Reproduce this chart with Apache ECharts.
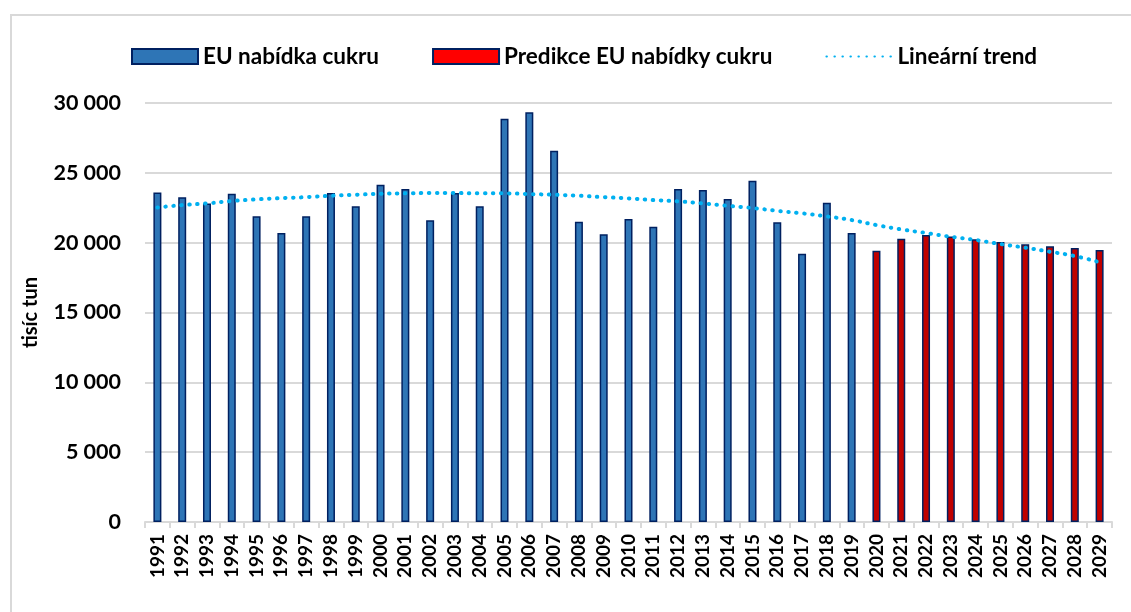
<!DOCTYPE html>
<html>
<head>
<meta charset="utf-8">
<script src="https://cdn.jsdelivr.net/npm/echarts@6/dist/echarts.min.js"></script>
<style>
  html, body { margin: 0; padding: 0; background: #fff; }
  #chart { width: 1131px; height: 612px; }
</style>
</head>
<body>
<div id="chart"></div>
<script>
// Years on the category axis
const years = [
  '1991','1992','1993','1994','1995','1996','1997','1998','1999','2000',
  '2001','2002','2003','2004','2005','2006','2007','2008','2009','2010',
  '2011','2012','2013','2014','2015','2016','2017','2018','2019','2020',
  '2021','2022','2023','2024','2025','2026','2027','2028','2029'
];

// EU sugar supply, thousand tonnes, 1991–2019
const supplyHistory = [
  23600, 23250, 22800, 23500, 21900, 20700, 21900, 23550, 22600, 24150,
  23850, 21600, 23550, 22600, 28870, 29330, 26580, 21500, 20600, 21700,
  21140, 23840, 23770, 23120, 24430, 21470, 19200, 22860, 20700
];

// Forecast of EU sugar supply, 2020–2029
const supplyForecast = [
  19420, 20280, 20540, 20450, 20240, 20040, 19880, 19740, 19610, 19470
];

// Trend line values for every year
const trendValues = [
  22520, 22690, 22810, 22980, 23100, 23190, 23260, 23360, 23430, 23500,
  23530, 23550, 23550, 23530, 23530, 23480, 23430, 23360, 23260, 23170,
  23050, 22960, 22810, 22640, 22480, 22280, 22100, 21880, 21620, 21260,
  20950, 20690, 20420, 20190, 19900, 19640, 19350, 19040, 18600
];

// Y axis ticks
const yTicks = [0, 5000, 10000, 15000, 20000, 25000, 30000];

const seriesNames = ['EU nabídka cukru', 'Predikce EU nabídky cukru', 'Lineární trend'];

const blueData = years.map((y, i) => i < supplyHistory.length ? supplyHistory[i] : '-');
const redData = years.map((y, i) => i >= supplyHistory.length ? supplyForecast[i - supplyHistory.length] : '-');

const FONT = 'Lato, "Open Sans", sans-serif';
const WEIGHT = 'bold';
const fmt = v => String(v).replace(/\B(?=(\d{3})+(?!\d))/g, ' ');

const chart = echarts.init(document.getElementById('chart'), null, { renderer: 'canvas' });

chart.setOption({
  animation: false,
  backgroundColor: '#ffffff',
  textStyle: { fontFamily: FONT },
  graphic: [{
    type: 'rect',
    silent: true,
    shape: { x: 11, y: 15, width: 1140, height: 620 },
    style: { fill: 'none', stroke: '#D9D9D9', lineWidth: 2 }
  }],
  legend: {
    left: 126,
    top: 40,
    itemWidth: 66,
    itemHeight: 15,
    itemGap: 53,
    textStyle: { fontFamily: FONT, fontWeight: WEIGHT, fontSize: 22.5, color: '#000' },
    data: [
      { name: seriesNames[0], icon: 'rect' },
      { name: seriesNames[1], icon: 'rect', itemStyle: { color: '#FF0000' } },
      { name: seriesNames[2], itemStyle: { opacity: 0 } }
    ]
  },
  grid: { left: 145, right: 19, top: 103, bottom: 90 },
  xAxis: {
    type: 'category',
    data: years,
    boundaryGap: true,
    axisLine: { lineStyle: { color: '#D9D9D9', width: 2 } },
    axisTick: { show: true, length: 6, lineStyle: { color: '#D9D9D9', width: 2 } },
    axisLabel: {
      rotate: 90,
      interval: 0,
      margin: 12,
      fontFamily: FONT,
      fontWeight: WEIGHT,
      fontSize: 19,
      color: '#000'
    }
  },
  yAxis: {
    type: 'value',
    min: 0,
    max: 30000,
    interval: 5000,
    name: 'tisíc tun',
    nameLocation: 'middle',
    nameGap: 104,
    nameRotate: 90,
    nameTextStyle: { fontFamily: FONT, fontWeight: WEIGHT, fontSize: 20, color: '#000' },
    axisLine: { show: false },
    axisTick: { show: false },
    splitLine: { lineStyle: { color: '#D9D9D9', width: 2 } },
    axisLabel: {
      margin: 24,
      fontFamily: FONT,
      fontWeight: WEIGHT,
      fontSize: 21.5,
      color: '#000',
      formatter: v => yTicks.includes(v) ? fmt(v) : ''
    }
  },
  series: [
    {
      name: seriesNames[0],
      type: 'bar',
      data: blueData,
      barWidth: 8,
      barGap: '-100%',
      itemStyle: { color: '#2E75B6', borderColor: '#002060', borderWidth: 1.5 }
    },
    {
      name: seriesNames[1],
      type: 'bar',
      data: redData,
      barWidth: 8,
      barGap: '-100%',
      itemStyle: { color: '#C00000', borderColor: '#002060', borderWidth: 1.5 }
    },
    {
      name: seriesNames[2],
      type: 'line',
      data: trendValues,
      smooth: true,
      symbol: 'none',
      z: 5,
      lineStyle: { color: '#00B0F0', width: 4, type: [0.5, 7.5], cap: 'round' },
      itemStyle: { color: '#00B0F0' }
    }
  ]
});
</script>
</body>
</html>
